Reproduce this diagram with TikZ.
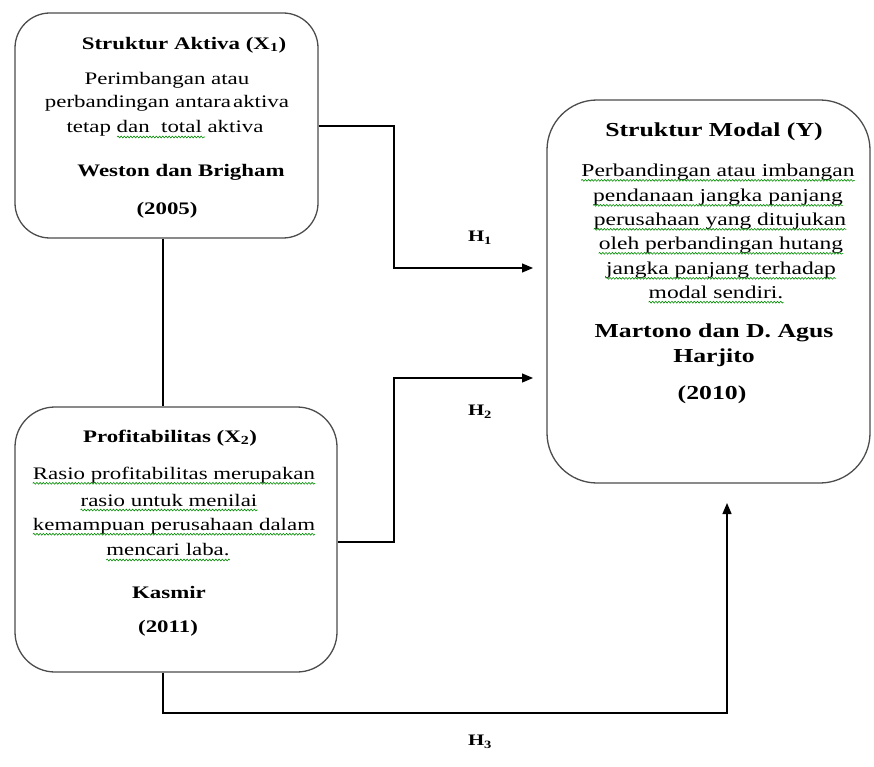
\documentclass[tikz,border=0pt]{standalone}
\usepackage{fontspec}
\setmainfont[FakeStretch=1.3]{Liberation Serif}
\usetikzlibrary{arrows.meta,decorations.pathmorphing}
\begin{document}
\begin{tikzpicture}[x=1pt,y=-1pt,
  box/.style={draw=black!70, line width=1.3pt, inner sep=0pt, fill=none},
  ttl/.style={font=\fontsize{17.6}{20}\selectfont\bfseries, inner sep=0pt},
  ttlb/.style={font=\fontsize{19.8}{22}\selectfont\bfseries, inner sep=0pt},
  txt/.style={font=\fontsize{17.6}{20}\selectfont, inner sep=0pt},
  txtb/.style={font=\fontsize{18.1}{20}\selectfont, inner sep=0pt},
  hlab/.style={font=\fontsize{16}{18}\selectfont\bfseries, inner sep=0pt},
  conn/.style={line width=1.2pt, draw=black},
  arr/.style={conn, -{Triangle[length=11pt,width=9pt]}},
  spell/.style={draw=green!55!black, line width=0.6pt, decorate,
    decoration={snake, amplitude=0.9pt, segment length=3.2pt}},
]
\useasboundingbox (0,0) rectangle (874,767);
% boxes
\node[box, rounded corners=35pt, minimum width=303pt, minimum height=225pt] (x1) at (166.5,125.5) {};
\node[box, rounded corners=40pt, minimum width=322pt, minimum height=265pt] (x2) at (176,539.5) {};
\node[box, rounded corners=50pt, minimum width=323pt, minimum height=383pt] (y) at (708.5,291.5) {};
% box X1 text
\node[ttl] (a0) at (184,45) {Struktur Aktiva (X\textsubscript{1})};
\node[txt] (a1) at (167,80) {Perimbangan atau};
\node[txt] (a2) at (167,103) {perbandingan antara\hspace{2pt}aktiva};
\node[txt] (a3) at (165,128) {tetap dan\ \ total aktiva};
\node[ttl] (a4) at (181,172) {Weston dan Brigham};
\node[ttl] (a5) at (167,210) {(2005)};
\draw[spell] (117,137) -- (205,137);
% box X2 text
\node[ttl] (b0) at (170,438) {Profitabilitas (X\textsubscript{2})};
\node[txt] (b1) at (174,475) {Rasio profitabilitas merupakan};
\node[txt] (b2) at (169,500) {rasio untuk menilai};
\node[txt] (b3) at (174,526) {kemampuan perusahaan dalam};
\node[txt] (b4) at (168,550) {mencari laba.};
\node[ttl] (b5) at (169,592) {Kasmir};
\node[ttl] (b6) at (168,628) {(2011)};
\foreach \n in {b1,b2,b3,b4}{
  \draw[spell] ([yshift=-4pt]\n.base west) -- ([yshift=-4pt]\n.base east);
}
% box Y text
\node[ttlb] (c0) at (714,132) {Struktur Modal (Y)};
\node[txtb] (c1) at (718,172) {Perbandingan atau imbangan};
\node[txtb] (c2) at (718,197) {pendanaan jangka panjang};
\node[txtb] (c3) at (720,221) {perusahaan yang ditujukan};
\node[txtb] (c4) at (721,245) {oleh perbandingan hutang};
\node[txtb] (c5) at (721,270) {jangka panjang terhadap};
\node[txtb] (c6) at (716,292) {modal sendiri.};
\foreach \n in {c1,c2,c3,c4,c5,c6}{
  \draw[spell] ([yshift=-4pt]\n.base west) -- ([yshift=-4pt]\n.base east);
}
\node[ttlb] (c7) at (714,333) {Martono dan D. Agus};
\node[ttlb] (c8) at (714,358) {Harjito};
\node[ttlb] (c9) at (712,395) {(2010)};
% connectors
\coordinate (v) at (163,300);
\draw[conn] (x1.south -| v) -- (x2.north -| v);
\coordinate (j1) at (394,126);
\coordinate (t1) at (533,268);
\draw[arr] (x1.east |- j1) -- (j1) |- (t1);
\coordinate (j2) at (394,542);
\coordinate (t2) at (533,378);
\draw[arr] (x2.east |- j2) -- (j2) |- (t2);
\coordinate (j3) at (163,713);
\coordinate (k3) at (727,713);
\coordinate (t3) at (727,503);
\draw[arr] (x2.south -| j3) -- (j3) -- (k3) -- (t3);
% labels
\node[hlab] (h1) at (480,238) {H\textsubscript{1}};
\node[hlab] (h2) at (480,412) {H\textsubscript{2}};
\node[hlab] (h3) at (480,742) {H\textsubscript{3}};
\end{tikzpicture}
\end{document}
